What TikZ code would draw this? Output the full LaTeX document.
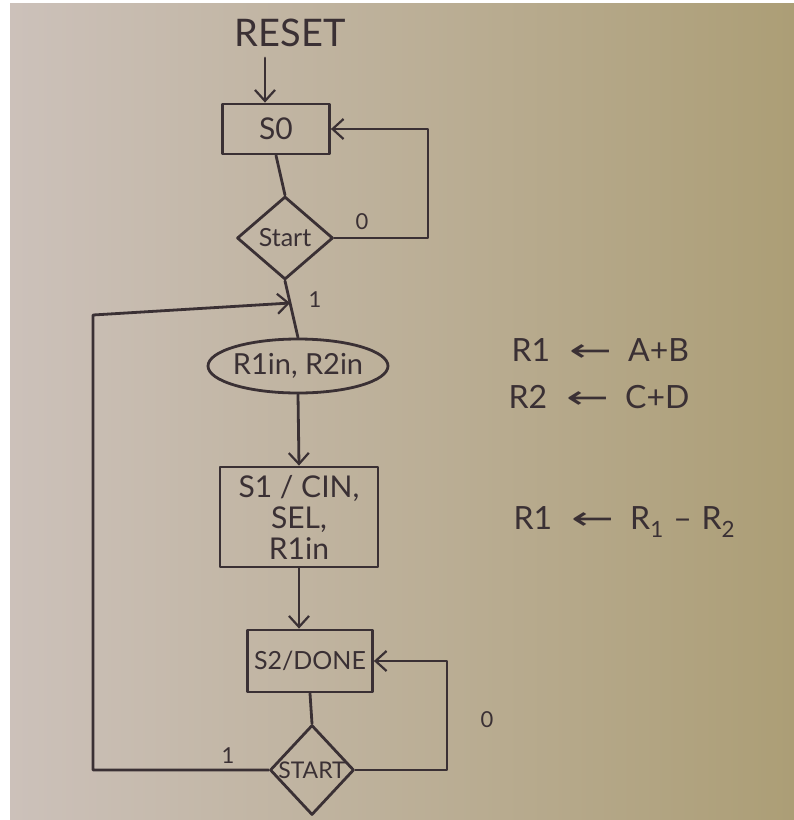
\documentclass[tikz,border=0pt]{standalone}
\usepackage{fontspec}
\usepackage{graphicx}
\setmainfont{Lato}
\newfontfamily\symfont{DejaVu Sans}
\usetikzlibrary{shapes.geometric,arrows.meta}
\definecolor{ink}{RGB}{58,48,52}
\definecolor{paperL}{RGB}{204,193,186}
\definecolor{paperR}{RGB}{172,158,118}
\newcommand{\larr}{\scalebox{1.6}[1]{\symfont ←}}
\tikzset{
  pen/.style={draw=ink, line width=2.8pt, line join=round, line cap=round},
  flow/.style={pen, -{Straight Barb[length=11pt,width=20pt,line width=2.2pt]}},
  statebox/.style={pen, rectangle, inner sep=0pt, align=center, text=ink, font=\fontsize{25}{31}\selectfont},
  decide/.style={pen, diamond, aspect=1.15, inner sep=0pt, text=ink, font=\fontsize{25}{27}\selectfont},
  oval/.style={pen, ellipse, inner sep=0pt, text=ink, font=\fontsize{29}{32}\selectfont},
  lbl/.style={text=ink, font=\fontsize{22}{26}\selectfont},
  note/.style={text=ink, font=\fontsize{32}{36}\selectfont, anchor=west}
}
\begin{document}
\begin{tikzpicture}[x=1pt,y=-1pt]
\useasboundingbox (0,0) rectangle (794,820);
\fill[white] (0,0) rectangle (794,820);
\shade[left color=paperL, right color=paperR] (10,3) rectangle (794,820);

\node[text=ink, font=\fontsize{38}{42}\selectfont] (reset) at (290,33) {RESET};
\node[statebox, minimum width=107pt, minimum height=50pt, font=\fontsize{30}{34}\selectfont] (s0) at (276,129) {S0};
\node[decide, minimum width=96pt, minimum height=83pt] (d1) at (285,238) {\makebox[0pt]{Start}};
\node[oval, minimum width=180pt, minimum height=54pt] (el) at (298,366) {\makebox[0pt]{R1in, R2in}};
\node[statebox, minimum width=158pt, minimum height=100pt, font=\fontsize{30}{31}\selectfont] (b2) at (299,517) {S1 / CIN,\\SEL,\\R1in};
\node[statebox, minimum width=125pt, minimum height=62pt] (b3) at (310,661) {S2/DONE};
\node[decide, minimum width=84pt, minimum height=90pt, font=\fontsize{23}{25}\selectfont] (d2) at (312,770) {\makebox[0pt]{START}};

\coordinate (rs) at (265,58);
\coordinate (rtop) at (428,129);
\coordinate (rbot) at (428,238);
\coordinate (r2top) at (447,661);
\coordinate (r2bot) at (447,770);
\coordinate (lbot) at (93,770);
\coordinate (ltop) at (93,315);
\path (d1.south) -- (el.north) coordinate[pos=0.39] (j);

\draw[flow] (rs) -- (rs |- s0.north);
\draw[pen] (s0.south) -- (d1.north);
\draw[flow] (d1.east) -- (rbot) -- (rtop) -- (s0.east);
\draw[pen] (d1.south) -- (el.north);
\draw[flow] (el.south) -- (b2.north);
\draw[flow] (b2.south) -- (b2.south |- b3.north);
\draw[pen] (b3.south) -- (d2.north);
\draw[flow] (d2.east) -- (r2bot) -- (r2top) -- (b3.east);
\draw[flow] (d2.west) -- (lbot) -- (ltop) -- (j);

\node[lbl] (l0a) at (362,222) {0};
\node[lbl] (l1a) at (315,300) {1};
\node[lbl] (l1b) at (228,756) {1};
\node[lbl] (l0b) at (487,720) {0};

\node[note] (n1) at (508,350) {R1\hspace{0.6em}\larr\hspace{0.5em}A+B};
\node[note] (n2) at (505,397) {R2\hspace{0.6em}\larr\hspace{0.5em}C+D};
\node[note] (n3) at (510,522) {R1\hspace{0.6em}\larr\hspace{0.5em}R\textsubscript{1}\hspace{0.3em}--\hspace{0.3em}R\textsubscript{2}};
\end{tikzpicture}
\end{document}
